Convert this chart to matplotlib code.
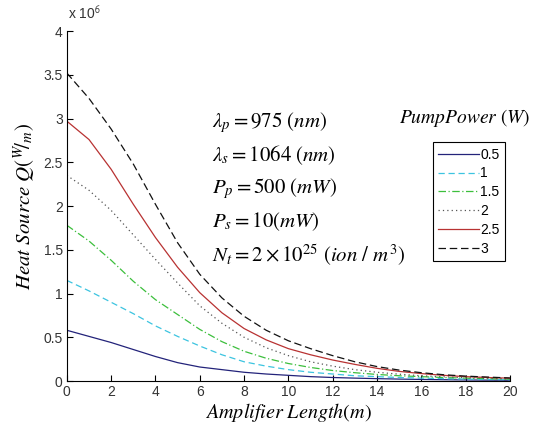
import matplotlib
matplotlib.use('Agg')
import matplotlib.pyplot as plt
import numpy as np

plt.rcParams.update({
    'font.family': 'Liberation Sans',
    'font.size': 10,
    'mathtext.fontset': 'stix',
    'xtick.direction': 'in',
    'ytick.direction': 'in',
})

# amplifier length (m)
z = np.arange(0, 21)

# heat source Q, in units of 1e6 W/m, one list per pump power
q_05 = [0.58, 0.51, 0.44, 0.36, 0.28, 0.21, 0.16, 0.13, 0.10, 0.08, 0.065,
        0.05, 0.04, 0.033, 0.027, 0.022, 0.018, 0.015, 0.012, 0.010, 0.009]
q_10 = [1.15, 1.03, 0.90, 0.77, 0.63, 0.51, 0.40, 0.30, 0.22, 0.17, 0.13,
        0.10, 0.08, 0.06, 0.05, 0.04, 0.033, 0.027, 0.022, 0.018, 0.015]
q_15 = [1.78, 1.60, 1.38, 1.14, 0.93, 0.76, 0.59, 0.45, 0.34, 0.26, 0.20,
        0.155, 0.12, 0.095, 0.075, 0.06, 0.05, 0.04, 0.033, 0.027, 0.022]
q_20 = [2.35, 2.18, 1.95, 1.67, 1.39, 1.12, 0.86, 0.66, 0.50, 0.38, 0.29,
        0.22, 0.17, 0.13, 0.10, 0.078, 0.06, 0.048, 0.038, 0.031, 0.025]
q_25 = [2.97, 2.76, 2.42, 2.02, 1.64, 1.30, 1.01, 0.78, 0.60, 0.47, 0.37,
        0.30, 0.24, 0.19, 0.145, 0.11, 0.085, 0.065, 0.05, 0.04, 0.032]
q_30 = [3.52, 3.23, 2.88, 2.48, 2.02, 1.58, 1.22, 0.95, 0.74, 0.58, 0.46,
        0.37, 0.29, 0.22, 0.165, 0.125, 0.095, 0.072, 0.056, 0.045, 0.035]

labels = ['0.5', '1', '1.5', '2', '2.5', '3']
series = [q_05, q_10, q_15, q_20, q_25, q_30]
colors = ['#23237a', '#3cc4e0', '#3cbf3c', '#555555', '#b83232', '#111111']
styles = ['-', (0, (5, 3)), (0, (6, 2, 1, 2)), (0, (1, 2.5)), '-', (0, (6, 3))]

fig = plt.figure(figsize=(5.39, 4.25), dpi=100)
ax = fig.add_axes([0.124, 0.1035, 0.822, 0.8235])

for q, lab, c, ls in zip(series, labels, colors, styles):
    ax.plot(z, q, color=c, linestyle=ls, linewidth=0.9, label=lab)

ax.set_xlim(0, 20)
ax.set_ylim(0, 4)
ax.set_xticks(np.arange(0, 21, 2))
ax.set_yticks(np.arange(0, 4.01, 0.5))
ax.set_yticklabels(['0', '0.5', '1', '1.5', '2', '2.5', '3', '3.5', '4'])
ax.tick_params(length=4, width=0.8, pad=3, labelcolor='#333333')
ax.spines['top'].set_visible(False)
ax.spines['right'].set_visible(False)

fig.text(0.126, 0.948, r'x 10$^{\mathsf{6}}$', fontsize=10, ha='left', va='bottom',
         color='#333333')

ax.set_xlabel(r'$Amplifier\ Length(m)$', fontsize=14.5, labelpad=1)
ax.set_ylabel(r'$Heat\ Source\ Q(^{W}\!/_{m})$', fontsize=15, labelpad=4)

params = [r'$\lambda_p=975\ (nm)$',
          r'$\lambda_s=1064\ (nm)$',
          r'$P_p=500\ (mW)$',
          r'$P_s=10(mW)$',
          r'$N_t=2\times10^{25}\ (ion\ /\ m^3)$']
for i, t in enumerate(params):
    fig.text(0.393, 0.712 - i * 0.078, t, fontsize=15, ha='left', va='center')

fig.text(0.862, 0.722, r'$PumpPower\ (W)$', fontsize=14, ha='center', va='center')

leg = ax.legend(loc='upper left', bbox_to_anchor=(0.826, 0.683), borderaxespad=0,
                fancybox=False, edgecolor='black', framealpha=1, fontsize=10,
                handlelength=2.9, handletextpad=0.1, labelspacing=0.35,
                borderpad=0.4)
leg.get_frame().set_linewidth(0.8)

fig.savefig('out.png', dpi=100, facecolor='white')
